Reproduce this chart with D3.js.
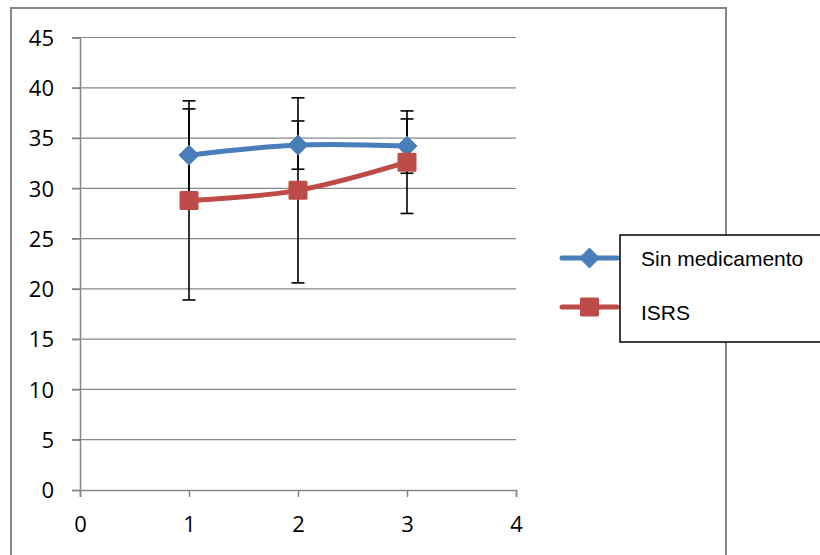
<!DOCTYPE html>
<html>
<head>
<meta charset="utf-8">
<script src="https://cdn.jsdelivr.net/npm/d3@7"></script>
<style>
  body { margin: 0; background: #fff; }
  svg { display: block; }
</style>
</head>
<body>
<svg width="820" height="555"></svg>
<script>
// data
var xs = [1, 2, 3];
var sinMed = [33.3, 34.3, 34.2];
var sinMedErr = [4.6, 2.4, 2.7];
var isrs = [28.8, 29.8, 32.6];
var isrsErr = [9.9, 9.2, 5.1];
var seriesNames = ["Sin medicamento", "ISRS"];
var seriesColors = ["#4A7EBB", "#BE4B48"];
var yTicks = [0, 5, 10, 15, 20, 25, 30, 35, 40, 45];
var xTicks = [0, 1, 2, 3, 4];

var series = [
  { name: seriesNames[0], color: seriesColors[0], vals: sinMed, err: sinMedErr, marker: "diamond" },
  { name: seriesNames[1], color: seriesColors[1], vals: isrs, err: isrsErr, marker: "square" }
];

var svg = d3.select("svg");
var gridColor = "#868686";
var numFont = "'Open Sans', 'DejaVu Sans', sans-serif";

// outer chart border (bottom runs past the window)
svg.append("rect")
  .attr("x", 11).attr("y", 8)
  .attr("width", 715).attr("height", 570)
  .attr("fill", "none")
  .attr("stroke", gridColor)
  .attr("stroke-width", 2);

var x = d3.scaleLinear().domain([0, 4]).range([80, 516]);
var y = d3.scaleLinear().domain([0, 45]).range([490, 37.5]);

// horizontal gridlines + left ticks
svg.append("g").selectAll("line")
  .data(yTicks.filter(function(d) { return d > 0; }))
  .enter().append("line")
  .attr("x1", 72).attr("x2", x(4))
  .attr("y1", function(d) { return y(d); })
  .attr("y2", function(d) { return y(d); })
  .attr("stroke", gridColor)
  .attr("stroke-width", 1.2);

var yAxis = d3.axisLeft(y).tickValues(yTicks).tickFormat(d3.format("d")).tickSize(8).tickPadding(18);
var gy = svg.append("g").attr("transform", "translate(" + x(0) + ",0)").call(yAxis);

var xAxis = d3.axisBottom(x).tickValues(xTicks).tickFormat(d3.format("d")).tickSize(7).tickPadding(19);
var gx = svg.append("g").attr("transform", "translate(0," + y(0) + ")").call(xAxis);

[gy, gx].forEach(function(g) {
  g.select(".domain").attr("stroke", gridColor).attr("stroke-width", 1.5);
  g.selectAll(".tick line").attr("stroke", gridColor).attr("stroke-width", 1.5);
  g.selectAll(".tick text")
    .attr("fill", "#000")
    .style("font-family", numFont)
    .style("font-size", "22px");
});
gy.selectAll(".tick text").attr("dy", "0.35em");

// error bars (under the lines and markers)
series.forEach(function(s) {
  var eb = svg.append("g").attr("stroke", "#000").attr("stroke-width", 1.6).attr("fill", "none");
  xs.forEach(function(xv, i) {
    var cx = x(xv), top = y(s.vals[i] + s.err[i]), bot = y(s.vals[i] - s.err[i]);
    eb.append("line").attr("x1", cx).attr("x2", cx).attr("y1", top).attr("y2", bot);
    eb.append("line").attr("x1", cx - 6.5).attr("x2", cx + 6.5).attr("y1", top).attr("y2", top);
    eb.append("line").attr("x1", cx - 6.5).attr("x2", cx + 6.5).attr("y1", bot).attr("y2", bot);
  });
});

var line = d3.line()
  .x(function(d) { return x(d[0]); })
  .y(function(d) { return y(d[1]); })
  .curve(d3.curveCardinal.tension(0));

function drawMarker(g, type, cx, cy, color) {
  if (type === "diamond") {
    g.append("path")
      .attr("d", "M" + cx + "," + (cy - 10) + "L" + (cx + 10) + "," + cy + "L" + cx + "," + (cy + 10) + "L" + (cx - 10) + "," + cy + "Z")
      .attr("fill", color).attr("stroke", color).attr("stroke-width", 1).attr("stroke-linejoin", "round");
  } else {
    g.append("rect")
      .attr("x", cx - 9.5).attr("y", cy - 9.5)
      .attr("width", 19).attr("height", 19)
      .attr("rx", 1.5)
      .attr("fill", color);
  }
}

series.forEach(function(s) {
  var pts = xs.map(function(xv, i) { return [xv, s.vals[i]]; });
  var g = svg.append("g");
  g.append("path")
    .attr("d", line(pts))
    .attr("fill", "none")
    .attr("stroke", s.color)
    .attr("stroke-width", 5)
    .attr("stroke-linecap", "round");
  pts.forEach(function(p) {
    drawMarker(g, s.marker, x(p[0]), y(p[1]), s.color);
  });
});

// legend
var lg = svg.append("g");
var legendYs = [258, 307];
series.forEach(function(s, i) {
  lg.append("line")
    .attr("x1", 562).attr("x2", 617)
    .attr("y1", legendYs[i]).attr("y2", legendYs[i])
    .attr("stroke", s.color).attr("stroke-width", 5).attr("stroke-linecap", "round");
  drawMarker(lg, s.marker, 589.5, legendYs[i], s.color);
});
lg.append("rect")
  .attr("x", 620).attr("y", 235)
  .attr("width", 220).attr("height", 107)
  .attr("fill", "#fff")
  .attr("stroke", "#000")
  .attr("stroke-width", 1.5);
series.forEach(function(s, i) {
  lg.append("text")
    .attr("x", 641)
    .attr("y", [265.5, 320][i])
    .attr("fill", "#000")
    .style("font-family", "'Liberation Sans', Arial, sans-serif")
    .style("font-size", "21px")
    .text(s.name);
});
</script>
</body>
</html>
